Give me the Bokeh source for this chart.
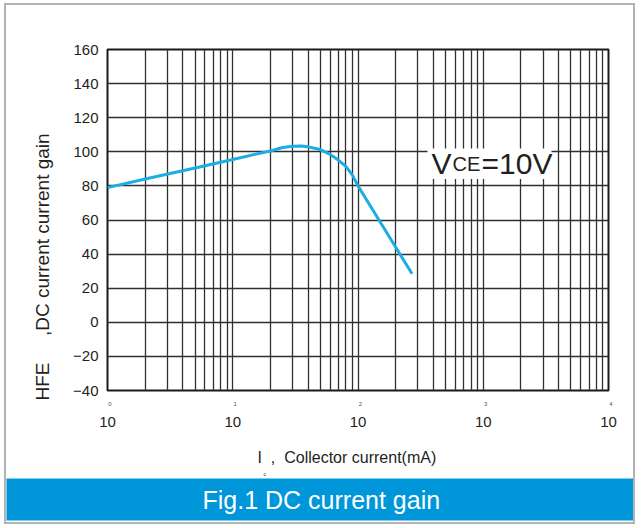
from bokeh.plotting import figure
from bokeh.models import (LogAxis, FixedTicker, CustomJSTickFormatter, Label,
                          BoxAnnotation, Range1d, Title)
from bokeh.embed import file_html
from bokeh.resources import INLINE

# ---- data ----
ic_ma = [1, 2, 5, 10, 15, 20, 25, 30, 35, 40, 50, 60, 70, 80, 90, 100, 150, 200, 270]
hfe = [79, 84, 90.5, 95.5, 98.5, 100.5, 102.5, 103.3, 103.4, 102.9, 101.3, 98.5, 95,
       91.5, 86.5, 80, 59, 44, 28.5]
x_decades = [1, 10, 100, 1000, 10000]
y_ticks = [-40, -20, 0, 20, 40, 60, 80, 100, 120, 140, 160]

FONT = "Liberation Sans"
INK = "#231f20"
CURVE = "#1aaee3"
BAND = "#0096da"
GRID = "#303030"
NB = "\u00a0"

p = figure(width=631, height=521, x_axis_type="log",
           x_range=Range1d(1, 10000), y_range=Range1d(-40, 160),
           output_backend="svg", toolbar_location=None,
           min_border_left=101, min_border_right=29,
           min_border_top=44, min_border_bottom=136,
           margin=(3, 0, 0, 4),
           styles={"border": "2px solid #b3b3b3"})
p.background_fill_color = "white"
p.border_fill_color = "white"
p.outline_line_color = "#1a1a1a"
p.outline_line_width = 2

# grid
minor = [d * k for d in x_decades[:-1] for k in range(2, 10)]
p.xgrid.ticker = FixedTicker(ticks=x_decades, minor_ticks=minor)
p.xgrid.grid_line_color = GRID
p.xgrid.grid_line_width = 1.3
p.xgrid.minor_grid_line_color = GRID
p.xgrid.minor_grid_line_width = 1.3
p.ygrid.ticker = FixedTicker(ticks=y_ticks)
p.ygrid.grid_line_color = GRID
p.ygrid.grid_line_width = 1.3

# y axis
ya = p.yaxis[0]
ya.ticker = FixedTicker(ticks=y_ticks)
ya.axis_line_color = None
ya.major_tick_in = 0
ya.major_tick_out = 0
ya.minor_tick_line_color = None
ya.major_label_text_font = FONT
ya.major_label_text_font_size = "15px"
ya.major_label_text_color = INK
ya.major_label_standoff = 9

# x axis: exponents
xa = p.xaxis[0]
xa.ticker = FixedTicker(ticks=x_decades)
xa.formatter = CustomJSTickFormatter(
    code="return '\\u00a0\\u00a0\\u00a0' + Math.round(Math.log10(tick)).toString()")
xa.axis_line_color = None
xa.major_tick_in = 0
xa.major_tick_out = 0
xa.minor_tick_line_color = None
xa.major_label_text_font = FONT
xa.major_label_text_font_size = "6px"
xa.major_label_text_color = "#555555"
xa.major_label_text_align = "left"
xa.major_label_standoff = 10

# x axis: bases "10" + axis title
xb = LogAxis(ticker=FixedTicker(ticks=x_decades),
             formatter=CustomJSTickFormatter(code="return '10'"))
xb.axis_line_color = None
xb.major_tick_in = 0
xb.major_tick_out = 0
xb.minor_tick_line_color = None
xb.major_label_text_font = FONT
xb.major_label_text_font_size = "15px"
xb.major_label_text_color = INK
xb.major_label_standoff = 7
xb.axis_label = "I" + NB * 2 + "," + NB * 2 + "Collector current(mA)" + NB * 5
xb.axis_label_text_font = FONT
xb.axis_label_text_font_size = "16px"
xb.axis_label_text_font_style = "normal"
xb.axis_label_text_color = INK
xb.axis_label_standoff = 19
p.add_layout(xb, "below")

# curve
p.line(ic_ma, hfe, line_color=CURVE, line_width=3)

# subscript of I, caption band
p.add_layout(Title(text="c", align="left", offset=156, standoff=0,
                   text_font=FONT, text_font_size="5px",
                   text_font_style="normal", text_color=INK), "below")
p.add_layout(Title(text="Fig.1 DC current gain", align="left", offset=-101,
                   standoff=0, text_font=FONT, text_font_size="25px",
                   text_font_style="normal", text_color="white",
                   background_fill_color=BAND, padding=(196, 7)), "below")

# y axis title
p.add_layout(Title(text="HFE" + NB * 5 + ",DC current current gain",
                   align="left", offset=-10, standoff=36,
                   text_font=FONT, text_font_size="19px",
                   text_font_style="normal", text_color=INK), "left")

# VCE label with white background (inside the frame)
p.add_layout(BoxAnnotation(left=320, right=444, top=102, bottom=84,
                           left_units="screen", right_units="screen",
                           fill_color="white", fill_alpha=1, line_color=None))
p.add_layout(Label(x=324, y=93, x_units="screen", text="V",
                   text_font=FONT, text_font_size="30px",
                   text_color=INK, text_baseline="alphabetic"))
p.add_layout(Label(x=345, y=93, x_units="screen", text="CE",
                   text_font=FONT, text_font_size="20px",
                   text_color=INK, text_baseline="alphabetic"))
p.add_layout(Label(x=374, y=93, x_units="screen", text="=10V",
                   text_font=FONT, text_font_size="30px",
                   text_color=INK, text_baseline="alphabetic"))

open("out.html", "w").write(file_html(p, INLINE))
